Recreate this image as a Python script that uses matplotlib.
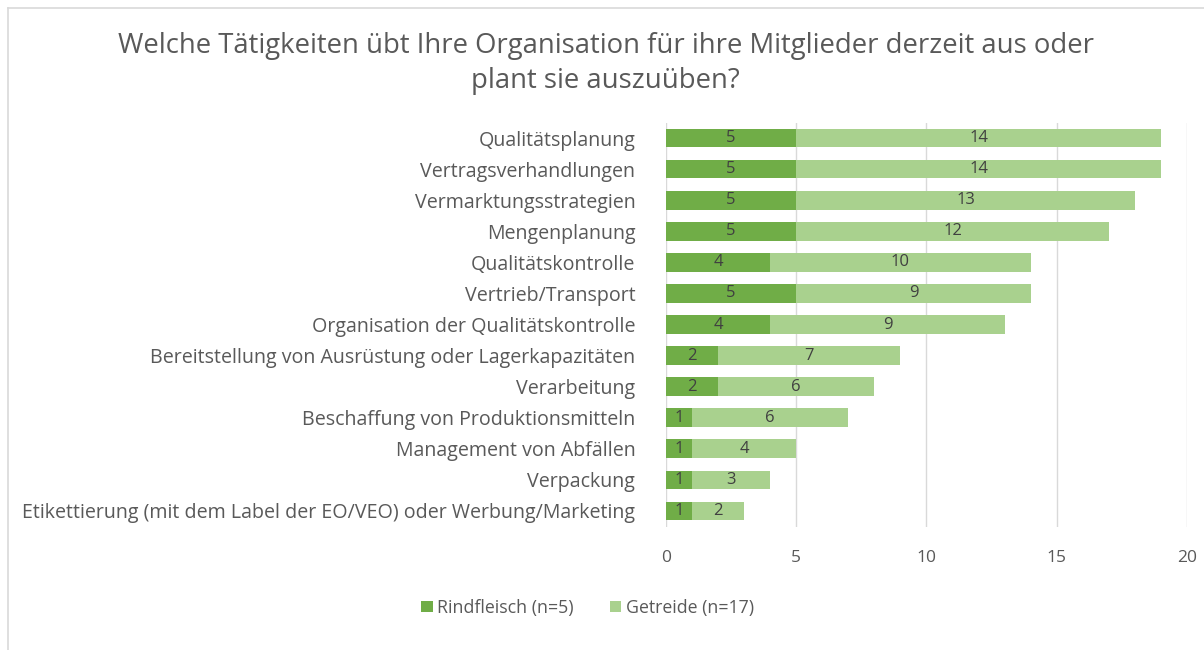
import matplotlib.pyplot as plt
from matplotlib.lines import Line2D
import numpy as np

# data
categories = [
    'Qualitätsplanung',
    'Vertragsverhandlungen',
    'Vermarktungsstrategien',
    'Mengenplanung',
    'Qualitätskontrolle',
    'Vertrieb/Transport',
    'Organisation der Qualitätskontrolle',
    'Bereitstellung von Ausrüstung oder Lagerkapazitäten',
    'Verarbeitung',
    'Beschaffung von Produktionsmitteln',
    'Management von Abfällen',
    'Verpackung',
    'Etikettierung (mit dem Label der EO/VEO) oder Werbung/Marketing',
]
rindfleisch = [5, 5, 5, 5, 4, 5, 4, 2, 2, 1, 1, 1, 1]
getreide = [14, 14, 13, 12, 10, 9, 9, 7, 6, 6, 4, 3, 2]
series_names = ['Rindfleisch (n=5)', 'Getreide (n=17)']
xticks = [0, 5, 10, 15, 20]

plt.rcParams['font.family'] = ['Open Sans', 'DejaVu Sans']
text_col = '#595959'

fig = plt.figure(figsize=(12.04, 6.5), dpi=100)
ax = fig.add_axes([0.553, 0.19, 0.433, 0.6215])

y = np.arange(len(categories))
b1 = ax.barh(y, rindfleisch, height=0.6, color='#70AD47', label=series_names[0], zorder=3)
b2 = ax.barh(y, getreide, left=rindfleisch, height=0.6, color='#A9D18E', label=series_names[1], zorder=3)
ax.bar_label(b1, label_type='center', color='#404040', fontsize=12)
ax.bar_label(b2, label_type='center', color='#404040', fontsize=12)

ax.set_ylim(len(categories) - 0.5, -0.5)
ax.set_xlim(0, 20)
ax.set_xticks(xticks)
ax.set_yticks(y)
ax.set_yticklabels(categories, fontsize=14.1, color=text_col)
ax.tick_params(axis='x', colors=text_col, labelsize=12.5, length=0, pad=17)
ax.tick_params(axis='y', length=0, pad=22)
ax.grid(axis='x', color='#D9D9D9', linewidth=1, zorder=0)
for s in ax.spines.values():
    s.set_visible(False)

fig.suptitle('Welche Tätigkeiten übt Ihre Organisation für ihre Mitglieder derzeit aus oder\nplant sie auszuüben?',
             x=0.503, y=0.95, fontsize=19.8, color=text_col, linespacing=1.3)

fig.legend(loc='center', bbox_to_anchor=(0.488, 0.065), ncol=2, frameon=False,
           fontsize=12.8, labelcolor=text_col, handlelength=0.65, handleheight=0.65,
           handletextpad=0.25, columnspacing=2.0)

# chart frame (only left and top edges visible in the crop)
fx = 7.5 / 1204
fy = 1 - 7.5 / 650
fig.add_artist(Line2D([fx, fx], [0, fy], transform=fig.transFigure, color='#D9D9D9', linewidth=1.2))
fig.add_artist(Line2D([fx, 1], [fy, fy], transform=fig.transFigure, color='#D9D9D9', linewidth=1.2))

fig.savefig('out.png', dpi=100)
